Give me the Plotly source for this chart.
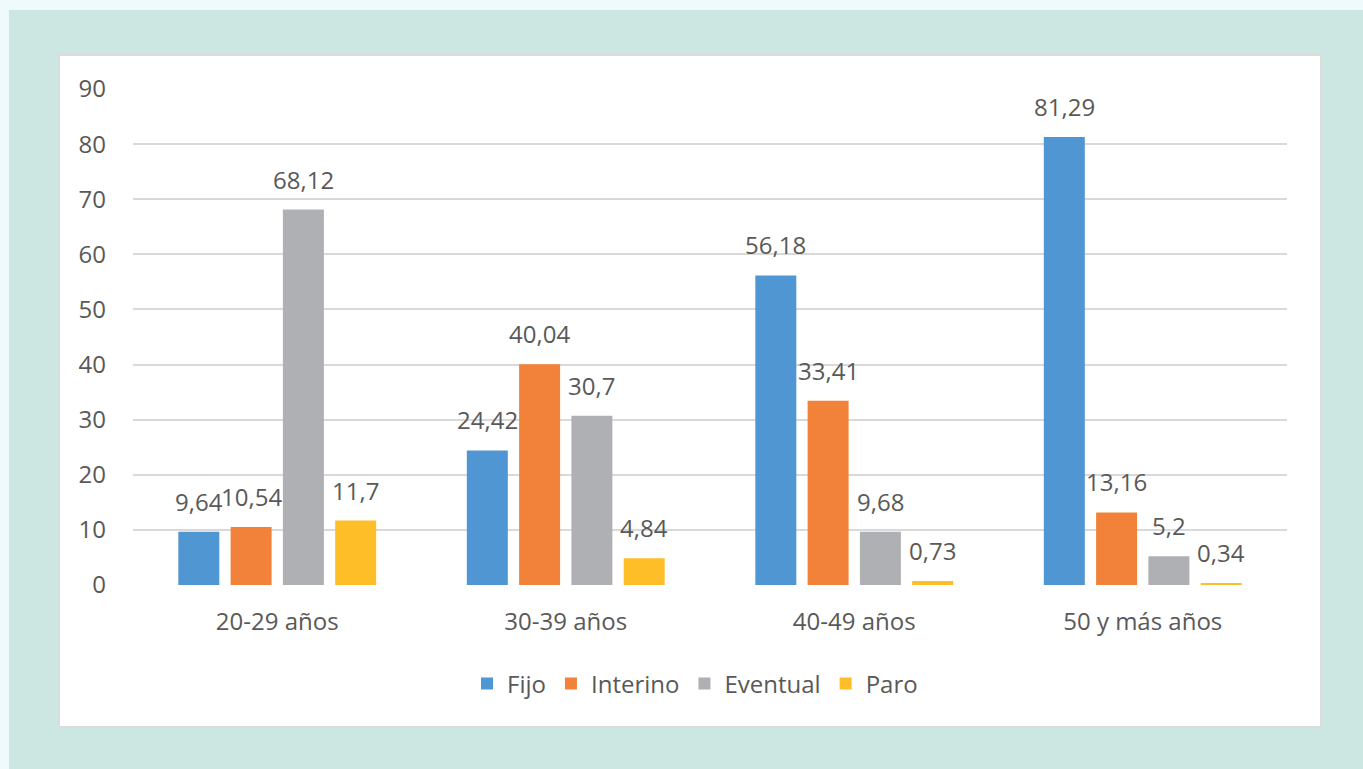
import plotly.graph_objects as go

categories = ["20-29 años", "30-39 años", "40-49 años", "50 y más años"]
fijo = [9.64, 24.42, 56.18, 81.29]
interino = [10.54, 40.04, 33.41, 13.16]
eventual = [68.12, 30.7, 9.68, 5.2]
paro = [11.7, 4.84, 0.73, 0.34]
y_ticks = [0, 10, 20, 30, 40, 50, 60, 70, 80, 90]

series = [
    ("Fijo", fijo, "#4f96d2"),
    ("Interino", interino, "#f2823a"),
    ("Eventual", eventual, "#afb0b3"),
    ("Paro", paro, "#fdbe28"),
]

W, H = 1363, 769
L, R, T, B = 133, 1287, 89, 585  # plot area in pixels
BARGAP = 0.275
BARGROUPGAP = 0.216
TEXT = "#595959"
FONT = "Open Sans"


def px_x(p):
    return (p - L) / (R - L)


def px_y(p):
    return (B - p) / (B - T)


def fmt(v):
    return f"{v:g}".replace(".", ",")


fig = go.Figure()
for name, vals, color in series:
    fig.add_trace(go.Bar(
        name=name, x=categories, y=vals,
        marker=dict(color=color, line=dict(width=0)),
    ))

# value labels above each bar, centred on its slot within the group
slot = (R - L) / len(categories) * (1 - BARGAP) / len(series)
annotations = []
for i, (name, vals, color) in enumerate(series):
    dx = (i - (len(series) - 1) / 2) * slot
    for cat, v in zip(categories, vals):
        annotations.append(dict(
            x=cat, y=v, xref="x", yref="y", text=fmt(v), showarrow=False,
            xanchor="center", yanchor="bottom", xshift=dx, yshift=12,
            font=dict(size=24, color=TEXT, family=FONT),
        ))

shapes = [
    # pale outer strip
    dict(type="rect", xref="paper", yref="paper", layer="below",
         x0=px_x(0), x1=px_x(W), y0=px_y(H), y1=px_y(0),
         fillcolor="#eefafc", line=dict(width=0)),
    # teal frame
    dict(type="rect", xref="paper", yref="paper", layer="below",
         x0=px_x(9), x1=px_x(W + 5), y0=px_y(H + 5), y1=px_y(10),
         fillcolor="#cce6e1", line=dict(width=0)),
    # white chart card
    dict(type="rect", xref="paper", yref="paper", layer="below",
         x0=px_x(59), x1=px_x(1321), y0=px_y(727), y1=px_y(55),
         fillcolor="#ffffff", line=dict(color="#dcdcdc", width=2)),
]

fig.update_layout(
    width=W, height=H,
    margin=dict(l=L, r=W - R, t=T, b=H - B),
    paper_bgcolor="#cce6e1", plot_bgcolor="rgba(0,0,0,0)",
    font=dict(family=FONT, color=TEXT, size=24),
    barmode="group", bargap=BARGAP, bargroupgap=BARGROUPGAP,
    shapes=shapes, annotations=annotations,
    showlegend=True,
    legend=dict(orientation="h", x=px_x(695), xanchor="center",
                y=px_y(684), yanchor="middle",
                font=dict(size=24, color=TEXT),
                bgcolor="rgba(0,0,0,0)", itemwidth=30, tracegroupgap=0),
    xaxis=dict(showgrid=False, showline=False, ticks="",
               tickfont=dict(size=24, color=TEXT), ticklabelstandoff=20),
    yaxis=dict(range=[0, 90], tickvals=y_ticks, showgrid=True,
               gridcolor="#d9d9d9", gridwidth=2, zeroline=False,
               showline=False, ticks="",
               tickfont=dict(size=24, color=TEXT), ticklabelstandoff=26),
)

fig.write_html("out.html")
